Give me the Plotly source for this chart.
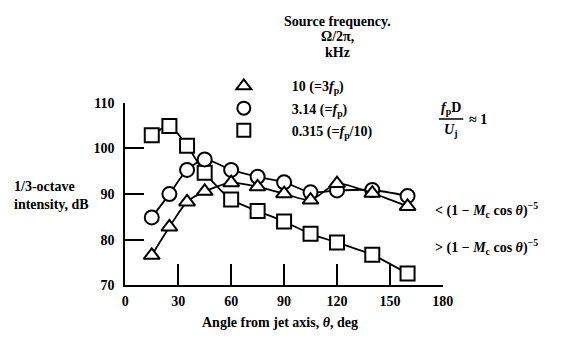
import plotly.graph_objects as go

# ---- data ----
theta = [15, 25, 35, 45, 60, 75, 90, 105, 120, 140, 160]
tri_10k = [76.6, 82.8, 88.3, 90.6, 92.5, 91.6, 90.1, 88.7, 92.3, 90.2, 87.3]
circ_314 = [84.9, 90.0, 95.3, 97.6, 95.3, 93.8, 92.6, 90.4, 90.8, 90.9, 89.6]
sq_0315 = [102.9, 104.9, 100.6, 94.7, 88.8, 86.3, 84.0, 81.3, 79.4, 76.7, 72.6]

x_ticks = [0, 30, 60, 90, 120, 150, 180]
y_ticks = [70, 80, 90, 100, 110]
legend_labels = ["10 (=3<i>f</i><sub>p</sub>)", "3.14 (=<i>f</i><sub>p</sub>)",
                 "0.315 (=<i>f</i><sub>p</sub>/10)"]

OFF = 8                      # default page body margin around the figure div
W, H = 563 - 2 * OFF, 342 - 2 * OFF
FONT = "Liberation Serif"


def px(x):
    """page pixel x -> paper fraction"""
    return (x - OFF) / W


def py(y):
    """page pixel y -> paper fraction"""
    return 1 - (y - OFF) / H


fig = go.Figure()

series = [
    (sq_0315, "square"),
    (circ_314, "circle"),
    (tri_10k, "triangle-up"),
]
for vals, sym in series:
    fig.add_trace(go.Scatter(
        x=theta, y=vals, mode="lines+markers",
        line=dict(color="black", width=1.8, shape="spline", smoothing=0.7),
        marker=dict(symbol=sym, size=14, color="white",
                    line=dict(color="black", width=2)),
        showlegend=False, cliponaxis=False,
    ))

# legend-only entries (triangle, circle, square order)
for i, (sym, name) in enumerate([("triangle-up", legend_labels[0]),
                                 ("circle", legend_labels[1]),
                                 ("square", legend_labels[2])]):
    fig.add_trace(go.Scatter(
        x=[None], y=[None], mode="markers", name=name, legendgroup=f"g{i}",
        marker=dict(symbol=sym, size=13, color="white",
                    line=dict(color="black", width=2)),
        showlegend=True,
    ))

axis_common = dict(showline=True, linecolor="black", linewidth=2, mirror=False,
                   ticks="inside", tickwidth=2, tickcolor="black",
                   showgrid=False, zeroline=False,
                   tickfont=dict(family=FONT, size=14, color="black", weight="bold"))

fig.update_layout(
    width=W, height=H,
    margin=dict(l=0, r=0, t=0, b=0),
    paper_bgcolor="white", plot_bgcolor="white",
    xaxis=dict(domain=[px(124.5), px(451)], range=[0, 180], tickvals=x_ticks,
               ticklen=21, ticklabelstandoff=2, **axis_common),
    yaxis=dict(domain=[py(291.5), py(100)], range=[70, 110], tickvals=y_ticks,
               ticklen=19, ticklabelstandoff=6, **axis_common),
    legend=dict(x=px(197), y=py(66), xanchor="left", yanchor="top",
                itemwidth=86, tracegroupgap=1, bgcolor="rgba(0,0,0,0)",
                font=dict(family=FONT, size=14, color="black", weight="bold")),
)

ann_font = dict(family=FONT, size=14, color="black", weight="bold")


def ann(text, x, y, xanchor="center", align="center", size=14):
    f = dict(ann_font)
    f["size"] = size
    fig.add_annotation(text=text, x=px(x), y=py(y), xref="paper", yref="paper",
                       xanchor=xanchor, yanchor="middle", align=align,
                       showarrow=False, font=f)


ann("Source frequency.", 343, 15)
ann("Ω/2π,", 343, 31)
ann("kHz", 343, 47)

ann("1/3-octave<br>intensity, dB", 8, 197, xanchor="left", align="left")
ann("Angle from jet axis, <i>θ</i>, deg", 284, 330)

ann("<i>f</i><sub>p</sub>D", 459, 106)
ann("<i>U</i><sub>j</sub>", 459, 129)
ann("≈ 1", 487, 118, xanchor="center")
fig.add_shape(type="line", xref="paper", yref="paper",
              x0=px(447), x1=px(472), y0=py(117), y1=py(117),
              line=dict(color="black", width=1.5))

ann("&lt; (1 − <i>M</i><sub>c</sub> cos <i>θ</i>)<sup>−5</sup>", 441, 212, xanchor="left", align="left")
ann("&gt; (1 − <i>M</i><sub>c</sub> cos <i>θ</i>)<sup>−5</sup>", 441, 251, xanchor="left", align="left")

fig.write_html("out.html")
